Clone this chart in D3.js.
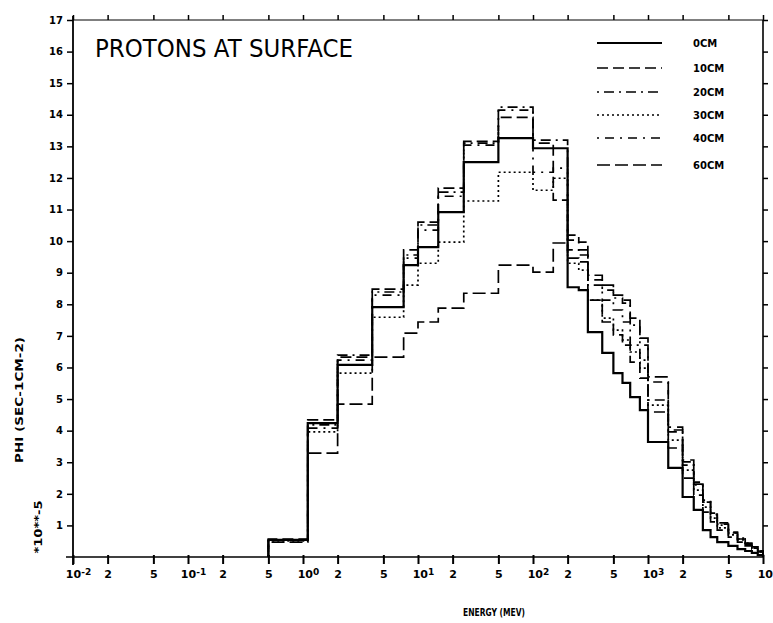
<!DOCTYPE html>
<html>
<head>
<meta charset="utf-8">
<script src="https://cdn.jsdelivr.net/npm/d3@7"></script>
<style>
  body { margin: 0; background: #fff; }
  svg { display: block; }
  .tick text { font-family: "DejaVu Sans", sans-serif; font-weight: bold; }
</style>
</head>
<body>
<script>
// bin edges in MeV (31 bins)
var edges = [0.5, 1.1, 2, 4, 7.5, 10, 15, 25, 50, 100, 150, 200, 250, 300, 400, 500,
             600, 700, 850, 1000, 1500, 2000, 2500, 3000, 3500, 4000, 5000, 6000, 7000, 8000, 9000, 10000];

// flux per bin, units of 1e-5
var phi0 = [0.54, 4.24, 6.08, 7.91, 9.24, 9.81, 10.92, 12.50, 13.26, 12.94, 12.94,
            8.54, 8.45, 7.12, 6.46, 5.82, 5.51, 5.06, 4.65, 3.64, 2.82, 1.90, 1.49,
            0.85, 0.63, 0.47, 0.35, 0.25, 0.19, 0.13, 0.06];
var phi10 = [0.57, 4.34, 6.33, 8.48, 9.72, 10.60, 11.68, 13.16, 13.92, 13.10, 11.30,
             9.46, 9.34, 8.13, 7.44, 7.03, 6.71, 6.17, 5.66, 4.59, 3.45, 2.50, 1.96,
             1.42, 1.11, 0.85, 0.63, 0.47, 0.35, 0.25, 0.16];
var phi20 = [0.54, 4.18, 6.39, 8.39, 9.56, 10.51, 11.55, 13.10, 14.24, 13.20, 13.20,
             9.72, 9.56, 8.61, 8.13, 7.82, 7.44, 6.71, 6.23, 4.97, 3.96, 2.91, 2.28,
             1.74, 1.33, 1.01, 0.76, 0.57, 0.44, 0.32, 0.19];
var phi30 = [0.51, 3.96, 5.82, 7.59, 8.61, 9.30, 9.97, 11.27, 12.18, 11.61, 11.99,
             9.30, 9.08, 8.13, 7.56, 7.18, 6.87, 6.49, 5.98, 4.81, 3.70, 2.75, 2.12,
             1.58, 1.23, 0.92, 0.70, 0.54, 0.38, 0.28, 0.16];
var phi40 = [0.54, 4.08, 6.23, 8.29, 9.46, 10.35, 11.42, 13.04, 14.15, 12.18, 12.31,
             10.03, 9.72, 8.77, 8.45, 8.20, 8.04, 7.34, 6.71, 5.54, 4.11, 3.07, 2.37,
             1.80, 1.39, 1.08, 0.79, 0.60, 0.44, 0.32, 0.19];
var phi60 = [0.47, 3.29, 4.84, 6.33, 7.09, 7.44, 7.88, 8.35, 9.24, 9.02, 9.94,
             10.19, 9.97, 8.92, 8.61, 8.29, 8.13, 7.56, 6.93, 5.70, 4.02, 3.01, 2.31,
             1.74, 1.36, 1.04, 0.76, 0.57, 0.41, 0.28, 0.19];

var depthLabels = ["0CM", "10CM", "20CM", "30CM", "40CM", "60CM"];
var yTicks = [1, 2, 3, 4, 5, 6, 7, 8, 9, 10, 11, 12, 13, 14, 15, 16, 17];
var xTicks = [1e-2, 2e-2, 5e-2, 1e-1, 2e-1, 5e-1, 1, 2, 5, 10, 20, 50, 100, 200, 500,
              1000, 2000, 5000, 1e4];

var series = [
  { name: depthLabels[0], values: phi0,  dash: null,          width: 2.2 },
  { name: depthLabels[1], values: phi10, dash: "11,5",        width: 1.7 },
  { name: depthLabels[2], values: phi20, dash: "2,5,10,5",    width: 1.7 },
  { name: depthLabels[3], values: phi30, dash: "2,3",         width: 1.7 },
  { name: depthLabels[4], values: phi40, dash: "2,6,9,6",     width: 1.7 },
  { name: depthLabels[5], values: phi60, dash: "13,5",        width: 1.7 }
];

var w = 773, h = 623;
var svg = d3.select("body").append("svg")
    .attr("width", w)
    .attr("height", h);

var x = d3.scaleLog().domain([1e-2, 1e4]).range([73, 763]);
var y = d3.scaleLinear().domain([0, 17]).range([557, 20]);

// frame top
svg.append("line").attr("x1", 73).attr("x2", 763).attr("y1", 20).attr("y2", 20)
    .attr("stroke", "#000").attr("stroke-width", 1);

var decadeExp = function (d) {
  var e = Math.round(Math.log10(d));
  return Math.abs(Math.log10(d) - e) < 1e-6 ? e : null;
};

// bottom axis
var bottomAxis = svg.append("g")
    .attr("transform", "translate(0,557)")
    .call(d3.axisBottom(x).tickValues(xTicks).tickSize(7).tickSizeOuter(0).tickFormat(""));
bottomAxis.select(".domain").attr("stroke-width", 1.6).attr("d", "M66,0H763");
bottomAxis.selectAll(".tick line").attr("stroke-width", 2).attr("y1", -2);
bottomAxis.selectAll(".tick").each(function (d) {
  var t = d3.select(this).append("text")
      .attr("y", 21)
      .attr("fill", "#000")
      .attr("font-size", 11)
      .attr("text-anchor", "middle");
  var e = decadeExp(d);
  if (e === null) {
    t.text(String(Math.round(d / Math.pow(10, Math.floor(Math.log10(d))))));
  } else {
    t.attr("x", 5).text("10");
    t.append("tspan").attr("dy", -3).attr("font-size", 9).text(e < 0 ? "-" + (-e) : e);
  }
});

// top axis (ticks only)
var topAxis = svg.append("g")
    .attr("transform", "translate(0,20)")
    .call(d3.axisTop(x).tickValues(xTicks).tickSize(5).tickSizeOuter(0).tickFormat(""));
topAxis.select(".domain").remove();
topAxis.selectAll(".tick line").attr("stroke-width", 1.5);

// left axis
var leftAxis = svg.append("g")
    .attr("transform", "translate(73,0)")
    .call(d3.axisLeft(y).tickValues(yTicks).tickSize(6).tickSizeOuter(0).tickPadding(4));
leftAxis.select(".domain").attr("stroke-width", 1.8).attr("d", "M0,16V565");
leftAxis.selectAll(".tick line").attr("stroke-width", 1.5);
leftAxis.selectAll(".tick text").attr("font-size", 10);

// right axis (ticks only)
var rightAxis = svg.append("g")
    .attr("transform", "translate(763,0)")
    .call(d3.axisRight(y).tickValues(yTicks).tickSize(5).tickSizeOuter(0).tickFormat(""));
rightAxis.select(".domain").attr("stroke-width", 1.6).attr("d", "M0,20V557");
rightAxis.selectAll(".tick line").attr("stroke-width", 1.5);

// histograms
var line = d3.line()
    .x(function (d) { return x(d[0]); })
    .y(function (d) { return y(d[1]); })
    .curve(d3.curveStepAfter);

series.forEach(function (s) {
  var pts = [[edges[0], 0]];
  s.values.forEach(function (v, i) { pts.push([edges[i], v]); });
  pts.push([edges[edges.length - 1], s.values[s.values.length - 1]]);
  pts.push([edges[edges.length - 1], 0]);
  svg.append("path")
      .datum(pts)
      .attr("fill", "none")
      .attr("stroke", "#000")
      .attr("stroke-width", s.width)
      .attr("stroke-dasharray", s.dash)
      .attr("d", line);
});

// title
svg.append("text")
    .attr("x", 95)
    .attr("y", 57)
    .attr("font-family", "DejaVu Sans, sans-serif")
    .attr("font-size", 25)
    .attr("textLength", 258)
    .attr("lengthAdjust", "spacingAndGlyphs")
    .text("PROTONS AT SURFACE");

// legend
var legendY = [43, 68, 92, 115, 138, 165];
series.forEach(function (s, i) {
  svg.append("line")
      .attr("x1", 597).attr("x2", 662)
      .attr("y1", legendY[i]).attr("y2", legendY[i])
      .attr("stroke", "#000")
      .attr("stroke-width", s.width)
      .attr("stroke-dasharray", s.dash);
  svg.append("text")
      .attr("x", 693)
      .attr("y", legendY[i] + 4)
      .attr("font-family", "DejaVu Sans, sans-serif")
      .attr("font-weight", "bold")
      .attr("font-size", 10)
      .text(s.name);
});

// axis titles
svg.append("text")
    .attr("x", 463)
    .attr("y", 616)
    .attr("font-family", "DejaVu Sans, sans-serif")
    .attr("font-weight", "bold")
    .attr("font-size", 10)
    .attr("textLength", 62)
    .attr("lengthAdjust", "spacingAndGlyphs")
    .text("ENERGY (MEV)");

svg.append("text")
    .attr("transform", "translate(23,400) rotate(-90)")
    .attr("text-anchor", "middle")
    .attr("font-family", "DejaVu Sans, sans-serif")
    .attr("font-weight", "bold")
    .attr("font-size", 10)
    .attr("textLength", 126)
    .attr("lengthAdjust", "spacingAndGlyphs")
    .text("PHI (SEC-1CM-2)");

svg.append("text")
    .attr("transform", "translate(42,527) rotate(-90)")
    .attr("text-anchor", "middle")
    .attr("font-family", "DejaVu Sans, sans-serif")
    .attr("font-weight", "bold")
    .attr("font-size", 10)
    .attr("textLength", 53)
    .attr("lengthAdjust", "spacingAndGlyphs")
    .text("*10**-5");
</script>
</body>
</html>
